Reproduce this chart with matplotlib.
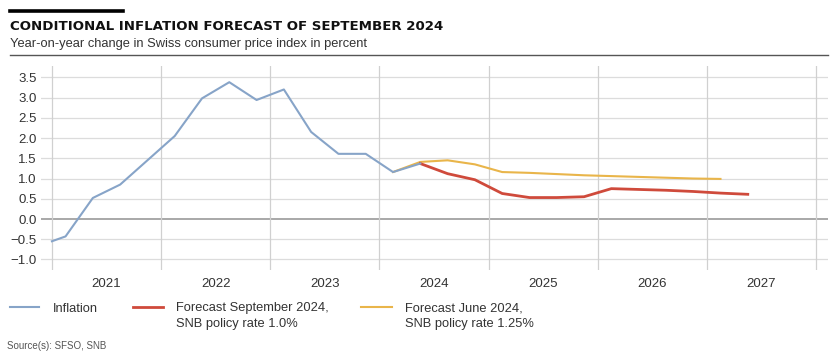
import matplotlib.pyplot as plt
import numpy as np

# --- data (quarterly, plotted at quarter midpoints) ---
infl_t = [2021.0, 2021.125, 2021.375, 2021.625, 2021.875,
          2022.125, 2022.375, 2022.625, 2022.875,
          2023.125, 2023.375, 2023.625, 2023.875,
          2024.125, 2024.375]
inflation = [-0.55, -0.43, 0.52, 0.85, 1.45,
             2.05, 2.98, 3.38, 2.94,
             3.2, 2.15, 1.61, 1.61,
             1.16, 1.37]

sep_t = [2024.375, 2024.625, 2024.875,
         2025.125, 2025.375, 2025.625, 2025.875,
         2026.125, 2026.375, 2026.625, 2026.875,
         2027.125, 2027.375]
forecast_sep = [1.37, 1.12, 0.97,
                0.63, 0.53, 0.53, 0.55,
                0.75, 0.73, 0.71, 0.68,
                0.64, 0.61]

jun_t = [2024.125, 2024.375, 2024.625, 2024.875,
         2025.125, 2025.375, 2025.625, 2025.875,
         2026.125, 2026.375, 2026.625, 2026.875,
         2027.125]
forecast_jun = [1.16, 1.41, 1.45, 1.35,
                1.16, 1.14, 1.11, 1.08,
                1.06, 1.04, 1.02, 1.0,
                0.99]

years = [2021, 2022, 2023, 2024, 2025, 2026, 2027]
yticks = [-1.0, -0.5, 0.0, 0.5, 1.0, 1.5, 2.0, 2.5, 3.0, 3.5]
legend_labels = [["Inflation"],
                 ["Forecast September 2024,", "SNB policy rate 1.0%"],
                 ["Forecast June 2024,", "SNB policy rate 1.25%"]]

BLUE = "#87a4c8"
RED = "#cf4a3b"
YELLOW = "#e9b54a"
TXT = "#333333"

plt.rcParams["font.family"] = ["Liberation Sans", "DejaVu Sans"]

W, H = 830, 355
fig = plt.figure(figsize=(W / 100, H / 100), dpi=100)
ax = fig.add_axes([41 / W, 1 - 270 / H, (828 - 41) / W, (270 - 66) / H])


def fx(px):
    return px / W


def fy(py):
    return 1 - py / H


# lines
ax.plot(jun_t, forecast_jun, color=YELLOW, lw=1.5, zorder=3)
ax.plot(sep_t, forecast_sep, color=RED, lw=2.0, zorder=4)
ax.plot(infl_t, inflation, color=BLUE, lw=1.5, zorder=5)

ax.set_xlim(2020.9, 2028.11)
ax.set_ylim(-1.26, 3.78)

# grid
for y in yticks:
    ax.axhline(y, color="#999999" if y == 0 else "#dcdcdc",
               lw=1.2 if y == 0 else 0.9, zorder=1)
for yr in years + [2028]:
    ax.axvline(yr, color="#d0d0d0", lw=0.9, zorder=1)

for s in ax.spines.values():
    s.set_visible(False)

ax.set_yticks(yticks)
ax.set_yticklabels([f"{v:.1f}".replace("-", "\u2212") for v in yticks])
ax.set_xticks([y + 0.5 for y in years])
ax.set_xticklabels([str(y) for y in years])
ax.tick_params(axis="both", length=0, labelsize=9.5, colors=TXT)
ax.tick_params(axis="y", pad=3)
ax.tick_params(axis="x", pad=6)

# header
fig.add_artist(plt.Line2D([fx(10), fx(123)], [fy(10.5), fy(10.5)],
                          color="black", lw=2.6))
fig.text(fx(10), fy(26), "CONDITIONAL INFLATION FORECAST OF SEPTEMBER 2024",
         fontsize=9.65, fontweight="bold", family="DejaVu Sans",
         color="#111111", va="center")
fig.text(fx(10), fy(44.5),
         "Year-on-year change in Swiss consumer price index in percent",
         fontsize=9.25, color=TXT, va="center")
fig.add_artist(plt.Line2D([fx(10), fx(828)], [fy(55), fy(55)],
                          color="#555555", lw=1.0))

# legend (handle line + text lines, first line level with the handle)
legend_items = [(BLUE, 1.5, 10, 39, 53),
                (RED, 2.0, 133, 163, 176),
                (YELLOW, 1.5, 361, 392, 405)]
for (color, lw, x0, x1, tx), lines in zip(legend_items, legend_labels):
    fig.add_artist(plt.Line2D([fx(x0), fx(x1)], [fy(307), fy(307)],
                              color=color, lw=lw))
    for i, line in enumerate(lines):
        fig.text(fx(tx), fy(307 + 16 * i), line, fontsize=9.25, color=TXT,
                 va="center_baseline")

fig.text(fx(7), fy(346), "Source(s): SFSO, SNB", fontsize=7,
         color="#555555", va="center")

fig.savefig("out.png", dpi=100)
